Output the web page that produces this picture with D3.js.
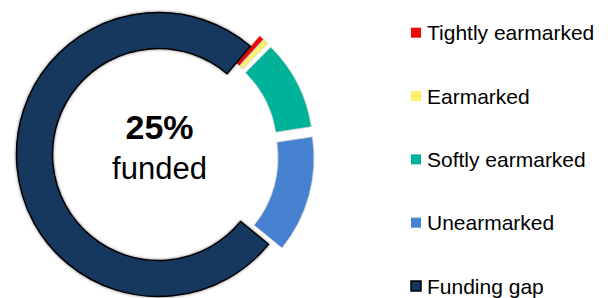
<!DOCTYPE html>
<html><head><meta charset="utf-8">
<script src="https://cdn.jsdelivr.net/npm/d3@7"></script>
<style>html,body{margin:0;padding:0;background:#fff;overflow:hidden}</style>
</head><body>
<svg id="chart" width="611" height="298"></svg>
<script>
const categories = ["Tightly earmarked", "Earmarked", "Softly earmarked", "Unearmarked", "Funding gap"];
const values = [0.6, 0.6, 10.2, 13.3, 75.3];
const colors = ["#EE0A0A", "#FFF16A", "#00B398", "#4682D0", "#18375F"];
const strokes = ["#c8c8c8", "#c8c8c8", "#d0d0d0", "#d0d0d0", "#000000"];
const exploded = [true, true, true, true, false];
const centerValue = "25%";
const centerLabel = "funded";

const svg = d3.select("#chart");
const defs = svg.append("defs");
const f = defs.append("filter").attr("id", "sh").attr("x", "-20%").attr("y", "-20%").attr("width", "140%").attr("height", "140%");
f.append("feDropShadow").attr("dx", 0).attr("dy", 0).attr("stdDeviation", 1.6).attr("flood-color", "#000").attr("flood-opacity", 0.55);

const cx = 158.5, cy = 154.5, R = 142, r = 106, explode = 14;
const start = 40.3 * Math.PI / 180;
const pie = d3.pie().sort(null).value(d => d).startAngle(start).endAngle(start + 2 * Math.PI);
const arc = d3.arc().innerRadius(r).outerRadius(R);
const arcs = pie(values);

const g = svg.append("g").attr("transform", `translate(${cx},${cy})`);
g.selectAll("path").data(arcs).join("path")
  .attr("d", arc)
  .attr("fill", (d, i) => colors[i])
  .attr("stroke", (d, i) => strokes[i])
  .attr("stroke-width", (d, i) => i === 4 ? 1.5 : 0.8)
  .attr("filter", (d, i) => i === 4 ? "url(#sh)" : null)
  .attr("transform", (d, i) => {
    if (!exploded[i]) return null;
    const m = (d.startAngle + d.endAngle) / 2;
    return `translate(${Math.sin(m) * explode},${-Math.cos(m) * explode})`;
  });

g.append("text").attr("x", 1).attr("y", -15.5).attr("text-anchor", "middle")
  .attr("font-family", "Liberation Sans, Arial, sans-serif").attr("font-weight", "bold")
  .attr("font-size", 34).attr("fill", "#000").text(centerValue);
g.append("text").attr("x", 1).attr("y", 24.8).attr("text-anchor", "middle")
  .attr("font-family", "Liberation Sans, Arial, sans-serif")
  .attr("font-size", 31).attr("fill", "#000").text(centerLabel);

const ly = d3.scalePoint().domain(categories).range([32.7, 286]);
const leg = svg.append("g");
const items = leg.selectAll("g").data(categories).join("g")
  .attr("transform", d => `translate(411,${ly(d)})`);
items.append("rect").attr("x", 0).attr("y", -5).attr("width", 10).attr("height", 10)
  .attr("fill", (d, i) => colors[i])
  .attr("stroke", (d, i) => i === 4 ? "#000" : "none").attr("stroke-width", 1.5);
items.append("text").attr("x", 16).attr("y", 7.5)
  .attr("font-family", "Liberation Sans, Arial, sans-serif").attr("font-size", 21)
  .attr("fill", "#000").text(d => d);
</script>
</body></html>
